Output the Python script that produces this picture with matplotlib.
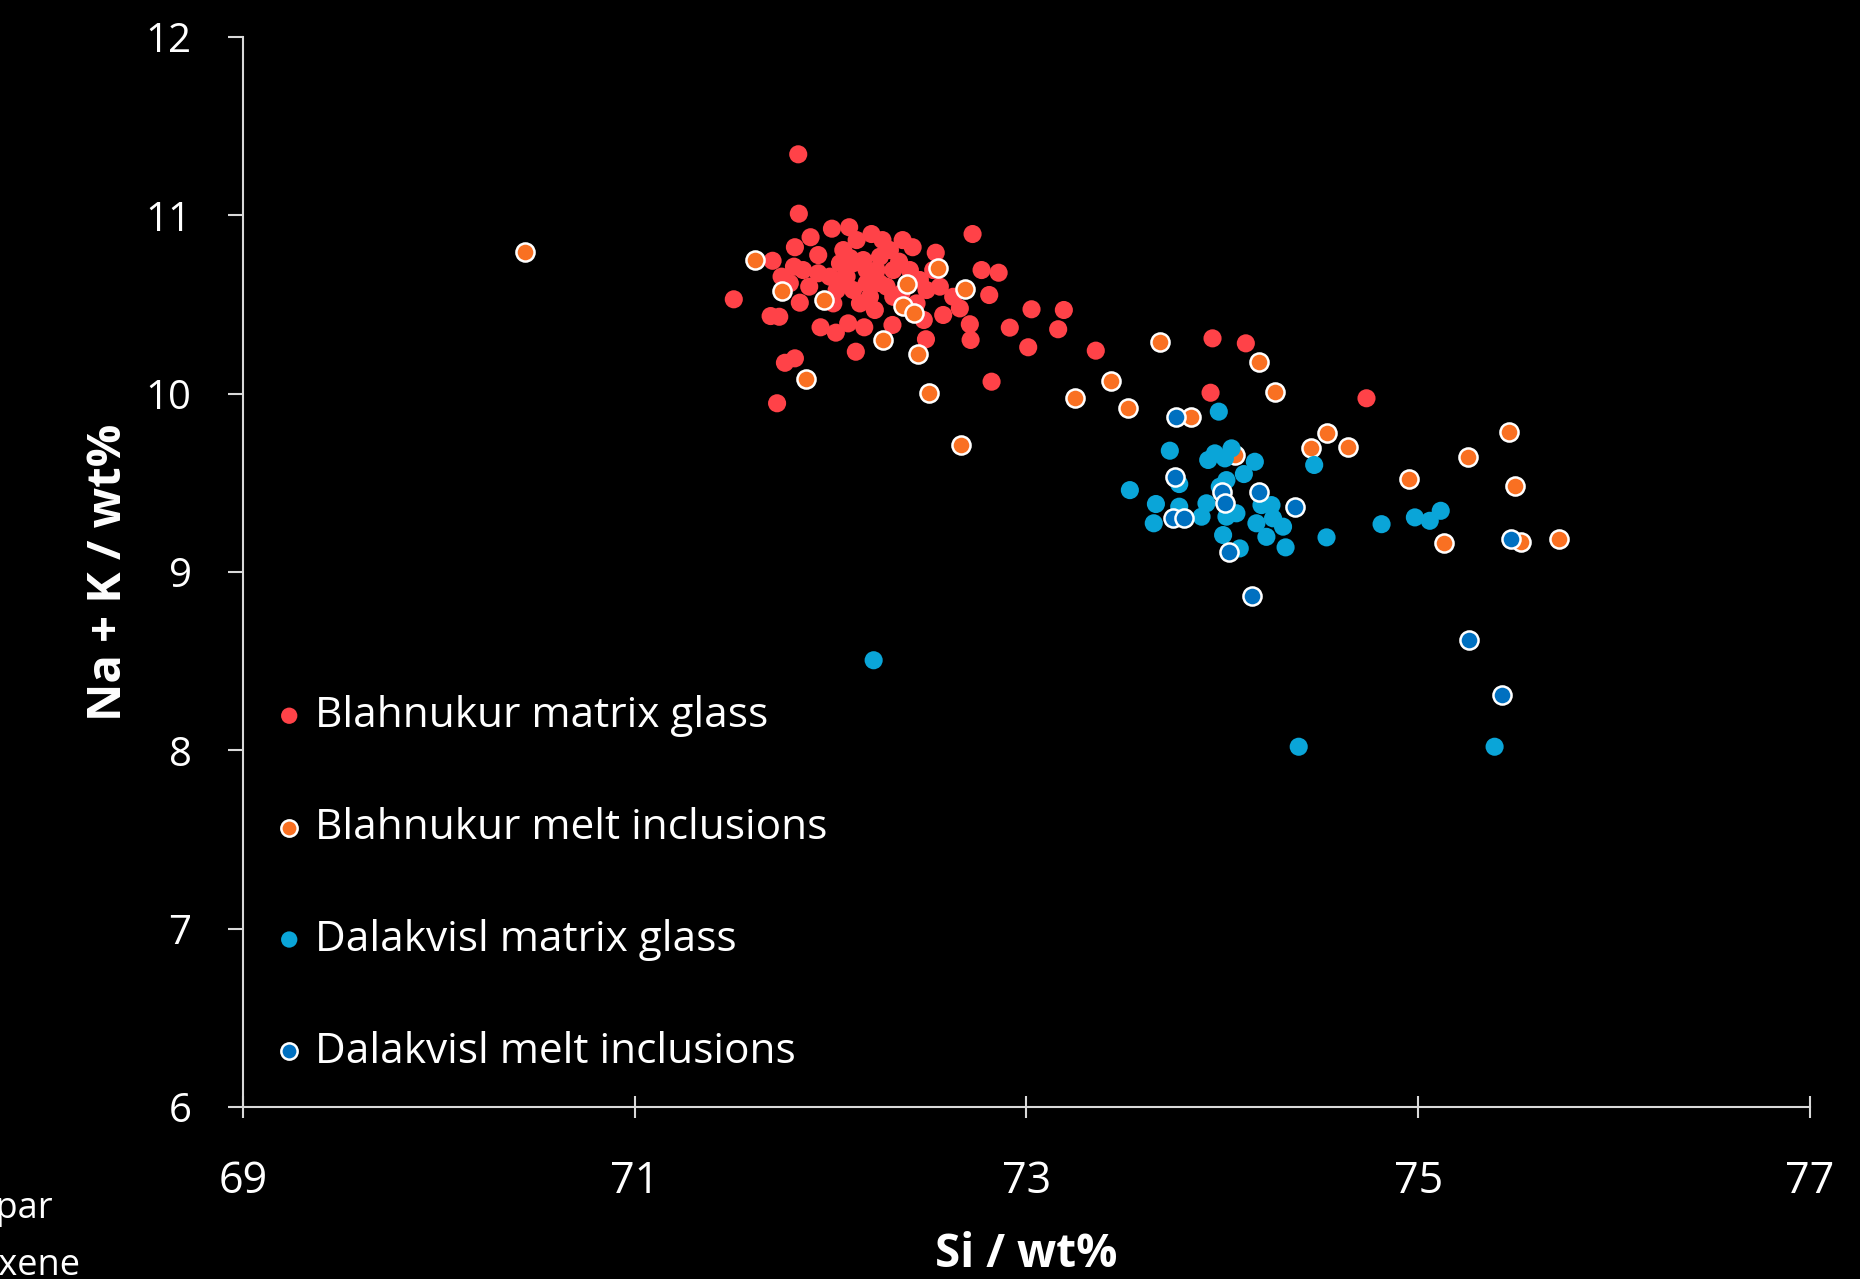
import matplotlib
matplotlib.use('Agg')
import matplotlib.pyplot as plt

plt.rcParams['font.family'] = ['Open Sans', 'DejaVu Sans']

# Blahnukur matrix glass
bmg_si = [71.835, 71.838, 71.506, 71.704, 71.818, 71.898, 72.007, 72.095, 72.209, 72.265,
          72.368, 72.419, 72.537, 72.725, 72.771, 72.858, 72.810, 72.915, 72.711, 72.715,
          72.822, 72.487, 72.575, 72.660, 72.626, 72.476, 72.316, 72.129, 72.172, 72.226,
          72.027, 71.949, 72.090, 71.694, 71.738, 71.767, 71.818, 71.727, 71.843, 71.750,
          71.813, 71.937, 71.891, 71.937, 71.996, 72.065, 72.133, 72.167, 72.082, 72.115,
          72.184, 72.235, 72.252, 72.303, 72.320, 72.286, 72.405, 72.456, 72.490, 72.524,
          72.558, 72.362, 72.320, 72.031, 72.014, 72.150, 72.201, 72.115, 72.184, 72.048,
          71.860, 71.792, 72.439, 73.026, 73.191, 73.162, 73.009, 73.354, 73.950, 74.120,
          73.940, 74.736, 72.060, 72.250, 72.100, 72.350]
bmg_nak = [11.342, 11.009, 10.529, 10.745, 10.821, 10.877, 10.925, 10.933, 10.895, 10.861,
           10.861, 10.821, 10.790, 10.895, 10.693, 10.678, 10.553, 10.370, 10.389, 10.301,
           10.067, 10.305, 10.441, 10.478, 10.543, 10.413, 10.385, 10.235, 10.372, 10.469,
           10.342, 10.372, 10.394, 10.435, 10.431, 10.173, 10.198, 9.946, 10.510, 10.656,
           10.712, 10.777, 10.600, 10.675, 10.656, 10.805, 10.861, 10.749, 10.656, 10.581,
           10.619, 10.693, 10.768, 10.805, 10.693, 10.600, 10.693, 10.637, 10.581, 10.693,
           10.600, 10.563, 10.543, 10.581, 10.506, 10.506, 10.543, 10.731, 10.693, 10.731,
           10.693, 10.619, 10.506, 10.473, 10.469, 10.361, 10.260, 10.241, 10.310, 10.282,
           10.005, 9.974, 10.640, 10.620, 10.760, 10.740]

# Blahnukur melt inclusions
bmi_si = [70.440, 71.614, 71.750, 71.968, 71.874, 72.388, 72.549, 72.686, 72.371, 72.427,
          72.269, 72.444, 72.503, 72.664, 73.681, 73.434, 73.247, 73.516, 74.186, 74.268,
          73.838, 74.064, 74.532, 74.455, 74.644, 75.464, 75.255, 74.954, 75.495, 75.131,
          75.527, 75.719]
bmi_nak = [10.795, 10.749, 10.575, 10.525, 10.082, 10.615, 10.703, 10.587, 10.493, 10.450,
           10.301, 10.222, 10.002, 9.710, 10.288, 10.069, 9.974, 9.918, 10.179, 10.011,
           9.867, 9.656, 9.777, 9.693, 9.702, 9.786, 9.643, 9.521, 9.484, 9.164,
           9.166, 9.186]

# Dalakvisl matrix glass
dmg_si = [73.982, 73.732, 73.528, 73.661, 73.650, 73.780, 73.780, 73.928, 73.962, 74.013,
          74.047, 74.166, 74.110, 74.021, 73.987, 73.919, 73.894, 74.021, 74.072, 74.004,
          74.089, 74.200, 74.251, 74.174, 74.259, 74.310, 74.225, 74.323, 74.469, 74.532,
          74.813, 74.983, 75.059, 75.115, 72.220, 74.390, 75.390]
dmg_nak = [9.899, 9.680, 9.459, 9.381, 9.273, 9.493, 9.366, 9.628, 9.665, 9.637,
           9.693, 9.618, 9.549, 9.515, 9.478, 9.385, 9.310, 9.310, 9.329, 9.207,
           9.132, 9.375, 9.375, 9.273, 9.301, 9.254, 9.197, 9.138, 9.600, 9.194,
           9.268, 9.306, 9.287, 9.343, 8.505, 8.020, 8.020]

# Dalakvisl melt inclusions
dmi_si = [73.766, 73.757, 73.749, 73.803, 73.996, 74.013, 74.187, 74.370, 74.035, 74.149,
          75.476, 75.260, 75.430]
dmi_nak = [9.871, 9.530, 9.301, 9.304, 9.450, 9.385, 9.446, 9.366, 9.113, 8.867,
           9.186, 8.620, 8.310]

x_ticks = [69, 71, 73, 75, 77]
y_ticks = [6, 7, 8, 9, 10, 11, 12]

fig = plt.figure(figsize=(18.6, 12.79), dpi=100, facecolor='black')
ax = fig.add_axes([0.1306, 0.1345, 0.8425, 0.8366], facecolor='black')

ms = 170
ax.scatter(bmg_si, bmg_nak, s=ms, c='#ff4248', edgecolors='none', label='Blahnukur matrix glass', zorder=3)
ax.scatter(bmi_si, bmi_nak, s=ms, c='#f97022', edgecolors='white', linewidths=1.8,
           label='Blahnukur melt inclusions', zorder=4)
ax.scatter(dmg_si, dmg_nak, s=ms, c='#0aa5d8', edgecolors='none', label='Dalakvisl matrix glass', zorder=5)
ax.scatter(dmi_si, dmi_nak, s=ms, c='#0070c0', edgecolors='white', linewidths=1.8,
           label='Dalakvisl melt inclusions', zorder=6)

ax.set_xlim(69, 77)
ax.set_ylim(6, 12)
ax.set_xticks(x_ticks)
ax.set_yticks(y_ticks)
for side in ['top', 'right']:
    ax.spines[side].set_visible(False)
for side in ['left', 'bottom']:
    ax.spines[side].set_color('#d9d9d9')
    ax.spines[side].set_linewidth(1.5)
ax.tick_params(axis='x', direction='inout', length=16, width=1.5, color='#d9d9d9',
               labelcolor='white', labelsize=31, pad=30)
ax.tick_params(axis='y', direction='out', length=11, width=1.5, color='#d9d9d9',
               labelcolor='white', labelsize=29, pad=26)

ax.set_xlabel('Si / wt%', color='white', fontsize=33, fontweight='bold', labelpad=19)
ax.set_ylabel('Na + K / wt%', color='white', fontsize=34, fontweight='bold', labelpad=10)

leg = ax.legend(loc='upper left', bbox_to_anchor=(-0.0083, 0.401), frameon=False,
                fontsize=30.5, labelspacing=1.65, handletextpad=-0.38, markerscale=0.9,
                labelcolor='white', borderaxespad=0.0)

# cut-off labels at the lower-left edge
fig.text(53 / 1860, 1 - 1218 / 1279, 'Feldspar', color='white', fontsize=26,
         ha='right', va='baseline')
fig.text(80 / 1860, 1 - 1275 / 1279, 'Pyroxene', color='white', fontsize=26,
         ha='right', va='baseline')

fig.savefig('out.png', dpi=100, facecolor='black')
